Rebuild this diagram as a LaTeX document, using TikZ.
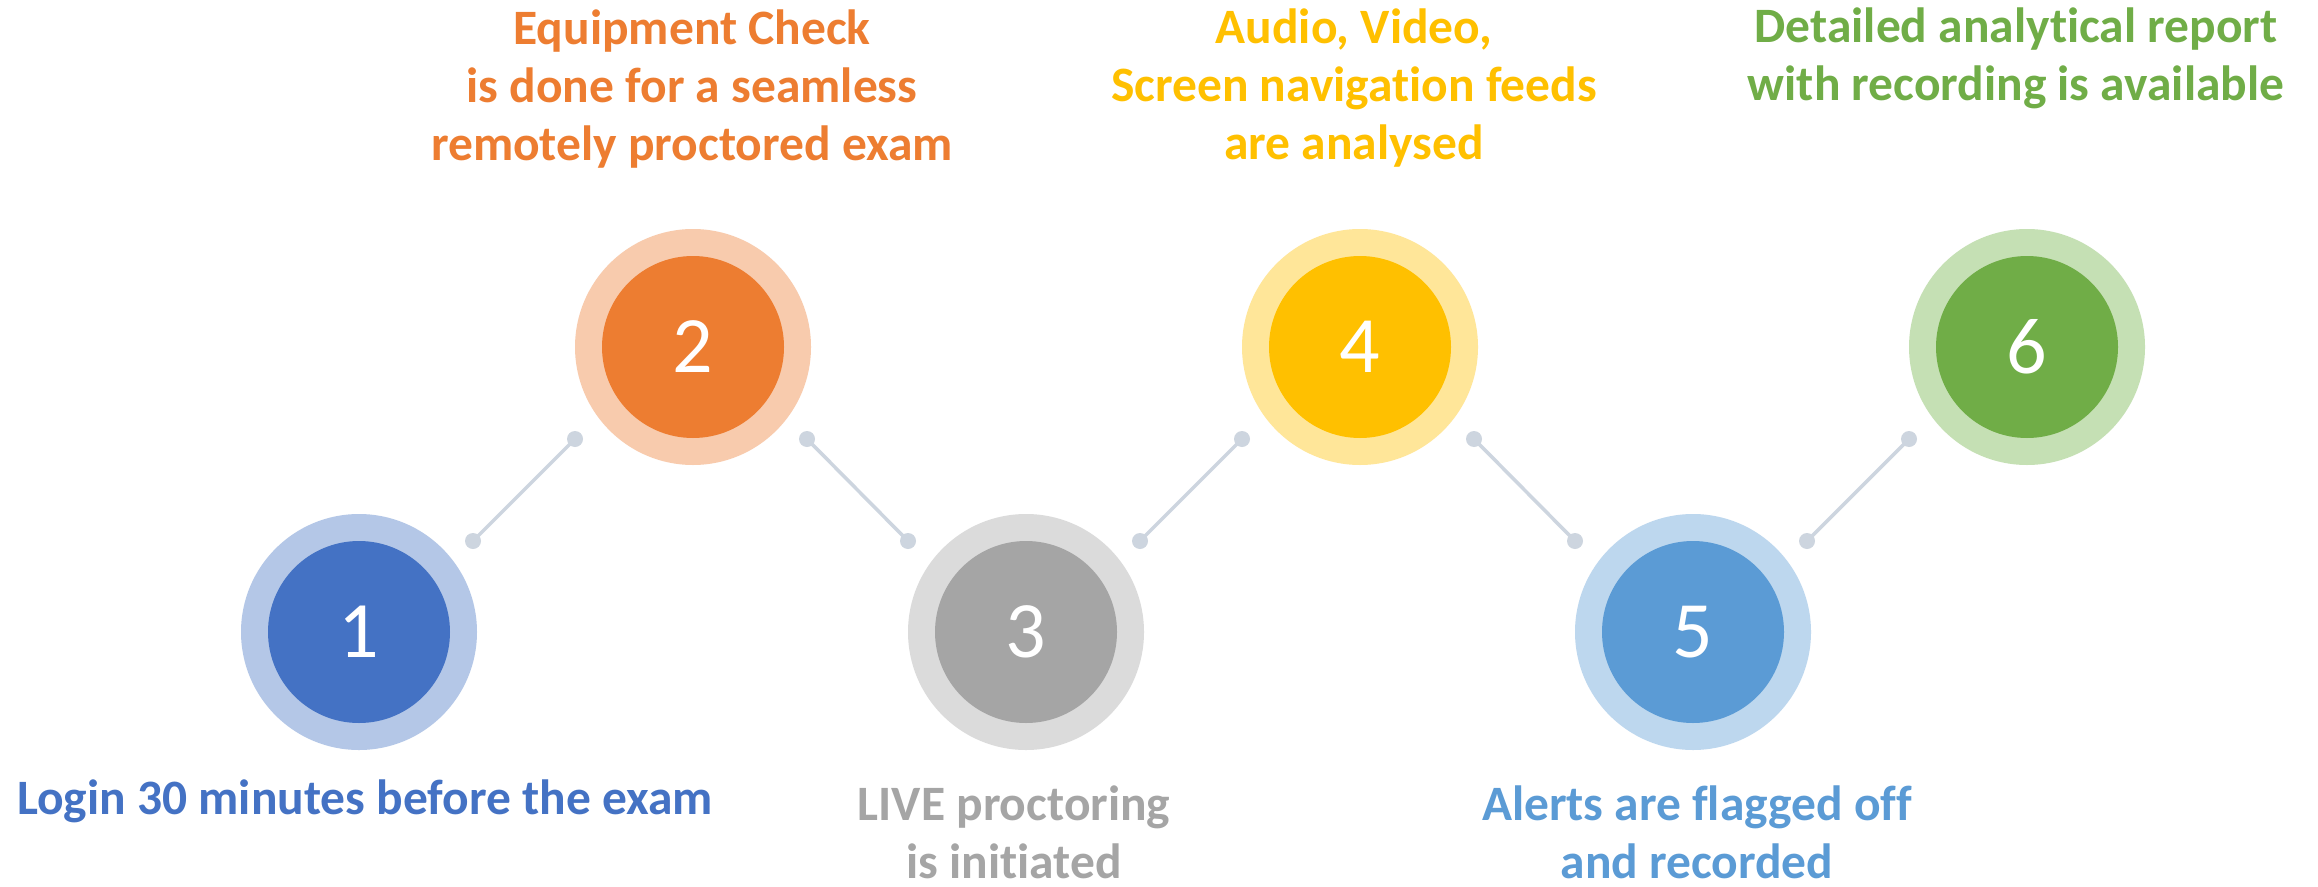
\documentclass[tikz,border=0pt]{standalone}
\usepackage{fontspec}
\setmainfont{Carlito}[Ligatures=NoCommon]
\usetikzlibrary{calc}
\definecolor{cA}{HTML}{4472C4}\definecolor{lA}{HTML}{B4C7E7}
\definecolor{cB}{HTML}{ED7D31}\definecolor{lB}{HTML}{F8CBAD}
\definecolor{cC}{HTML}{A5A5A5}\definecolor{lC}{HTML}{DBDBDB}
\definecolor{cD}{HTML}{FFC000}\definecolor{lD}{HTML}{FFE699}
\definecolor{cE}{HTML}{5B9BD5}\definecolor{lE}{HTML}{BDD7EE}
\definecolor{cF}{HTML}{70AD47}\definecolor{lF}{HTML}{C5E0B4}
\definecolor{conn}{HTML}{CDD5DF}
\tikzset{
  ring/.style={circle, minimum size=236pt, inner sep=0, draw=none},
  core/.style={circle, minimum size=182pt, inner sep=0, draw=none, text=white,
    font=\fontsize{80}{96}\selectfont},
  lab/.style={font=\bfseries\fontsize{49.5}{58}\selectfont, align=center, anchor=base, inner sep=0},
  dotn/.style={circle, fill=conn, minimum size=16pt, inner sep=0, draw=none},
  link/.style={draw=conn, line width=3.5pt}
}
\begin{document}
\begin{tikzpicture}[x=1pt,y=-1pt]
\useasboundingbox[fill=white] (0,0) rectangle (2318,886);
% circles
\node[ring, fill=lA] (r1) at (359,632) {};
\node[core, fill=cA] (c1) at (r1) {1};
\node[ring, fill=lB] (r2) at (693,347) {};
\node[core, fill=cB] (c2) at (r2) {2};
\node[ring, fill=lC] (r3) at (1026,632) {};
\node[core, fill=cC] (c3) at (r3) {3};
\node[ring, fill=lD] (r4) at (1360,347) {};
\node[core, fill=cD] (c4) at (r4) {4};
\node[ring, fill=lE] (r5) at (1693,632) {};
\node[core, fill=cE] (c5) at (r5) {5};
\node[ring, fill=lF] (r6) at (2027,347) {};
\node[core, fill=cF] (c6) at (r6) {6};
% connector dots
\node[dotn] (a1) at ($(c1)+(114,-91)$) {};
\node[dotn] (b2) at ($(c2)+(-118,92)$) {};
\node[dotn] (a2) at ($(c2)+(114,92)$) {};
\node[dotn] (b3) at ($(c3)+(-118,-91)$) {};
\node[dotn] (a3) at ($(c3)+(114,-91)$) {};
\node[dotn] (b4) at ($(c4)+(-118,92)$) {};
\node[dotn] (a4) at ($(c4)+(114,92)$) {};
\node[dotn] (b5) at ($(c5)+(-118,-91)$) {};
\node[dotn] (a5) at ($(c5)+(114,-91)$) {};
\node[dotn] (b6) at ($(c6)+(-118,92)$) {};
\draw[link] (a1.center) -- (b2.center);
\draw[link] (a2.center) -- (b3.center);
\draw[link] (a3.center) -- (b4.center);
\draw[link] (a4.center) -- (b5.center);
\draw[link] (a5.center) -- (b6.center);
% labels (base anchor = baseline of the last line)
\node[lab, text=cA] (t1) at (365,814) {Login 30 minutes before the exam};
\node[lab, text=cB] (t2) at (692,160) {Equipment Check\\is done for a seamless\\remotely proctored exam};
\node[lab, text=cC] (t3) at (1014,878) {LIVE proctoring\\is initiated};
\node[lab, text=cD] (t4) at (1354,159) {Audio, Video,\\Screen navigation feeds\\are analysed};
\node[lab, text=cE] (t5) at (1697,878) {Alerts are flagged off\\and recorded};
\node[lab, text=cF] (t6) at (2016,100) {Detailed analytical report\\with recording is available};
\end{tikzpicture}
\end{document}
